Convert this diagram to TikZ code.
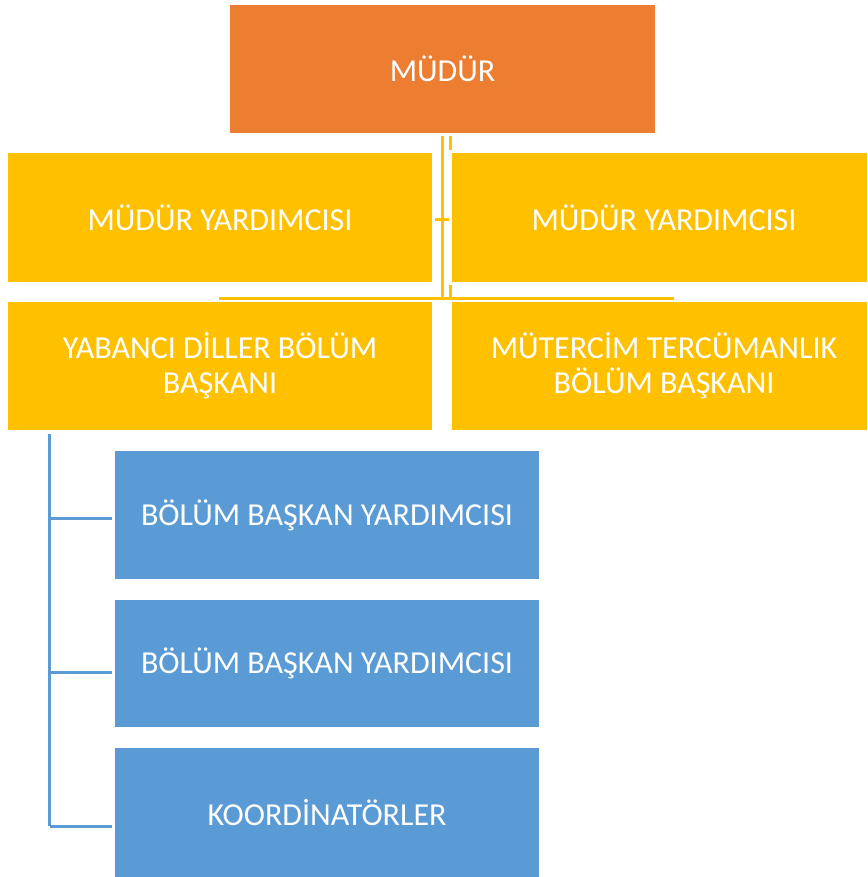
\documentclass[tikz,border=0pt]{standalone}
\usepackage{fontspec}
\setmainfont{Carlito}
\definecolor{orangeC}{HTML}{ED7D31}
\definecolor{yellowC}{HTML}{FFC000}
\definecolor{blueC}{HTML}{5B9BD5}
\begin{document}
\begin{tikzpicture}[x=1pt,y=-1pt,
  box/.style={draw=none,text=white,font=\fontsize{32}{35}\selectfont,align=center,inner sep=0pt},
  yline/.style={draw=yellowC,line width=3pt},
  bline/.style={draw=blueC,line width=3pt}]
\useasboundingbox (0,0) rectangle (867,877);
% boxes
\fill[orangeC] (230,5) rectangle (655,133);
\node[box] (mudur) at (442.5,69) {MÜDÜR};
\fill[yellowC] (8,153) rectangle (432,282);
\node[box] (my1) at (220,217.5) {MÜDÜR YARDIMCISI};
\fill[yellowC] (452,153) rectangle (867,282);
\node[box] (my2) at (664,217.5) {MÜDÜR YARDIMCISI};
\fill[yellowC] (8,302) rectangle (432,430);
\node[box] (ydb) at (220,366) {YABANCI DİLLER BÖLÜM\\BAŞKANI};
\fill[yellowC] (452,302) rectangle (867,430);
\node[box] (mtb) at (664,366) {MÜTERCİM TERCÜMANLIK\\BÖLÜM BAŞKANI};
\fill[blueC] (115,451) rectangle (539,579);
\node[box] (by1) at (327,515) {BÖLÜM BAŞKAN YARDIMCISI};
\fill[blueC] (115,600) rectangle (539,727);
\node[box] (by2) at (327,663.5) {BÖLÜM BAŞKAN YARDIMCISI};
\fill[blueC] (115,748) rectangle (539,877);
\node[box] (koor) at (327,812.5) {KOORDİNATÖRLER};
% connectors
\coordinate (t1) at (442.5,136);
\coordinate (b1) at (442.5,299);
\coordinate (t2) at (450.5,136);
\coordinate (m2) at (450.5,150);
\coordinate (n2) at (450.5,285);
\coordinate (b2) at (450.5,298);
\coordinate (hl) at (219,298);
\coordinate (hr) at (674,298);
\coordinate (tk1) at (435,220);
\coordinate (tk2) at (449,220);
\draw[yline] (t1) -- (b1);
\draw[yline] (t2) -- (m2);
\draw[yline] (n2) -- (b2);
\draw[yline] (hl) -- (hr);
\draw[yline] (tk1) -- (tk2);
\coordinate (bt) at (49.5,434);
\coordinate (bb) at (49.5,826);
\coordinate (e1) at (112,518);
\coordinate (e2) at (112,672);
\coordinate (e3) at (112,826);
\draw[bline] (bt) -- (bb);
\draw[bline] (bb) -- (e3);
\draw[bline] (49.5,518) -- (e1);
\draw[bline] (49.5,672) -- (e2);
\end{tikzpicture}
\end{document}
